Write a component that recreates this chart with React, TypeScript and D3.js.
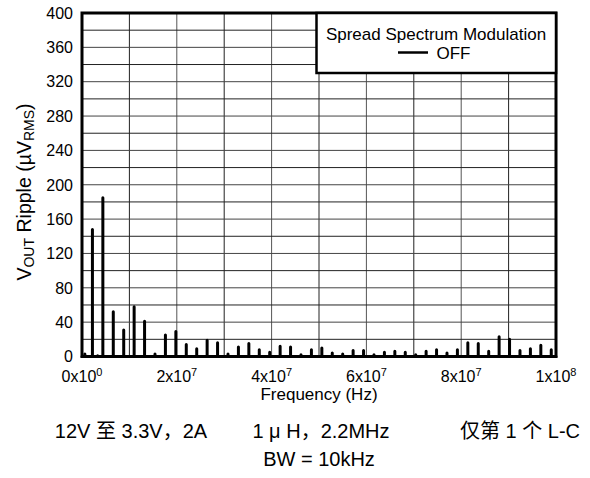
import React from 'react';
import * as d3 from 'd3';

// Spike frequencies (MHz) and ripple amplitude (µV RMS)
const spikeFreqMHz = [
  0.6, 2.2, 3.3, 4.4, 6.6, 8.8, 11, 13.2, 15.4, 17.6, 19.8, 22, 24.2, 26.4, 28.6, 30.8, 33,
  35.2, 37.4, 39.6, 41.8, 44, 46.2, 48.4, 50.6, 52.8, 55, 57.2, 59.4, 61.6, 63.8, 66, 68.2,
  70.4, 72.6, 74.8, 77, 79.2, 81.4, 83.6, 85.8, 88, 90.2, 92.4, 94.6, 96.8, 99,
];
const spikeRipple = [
  3, 148, 1, 185, 52, 31, 58, 41, 3, 25, 29, 14, 9, 19, 16, 3, 11,
  15, 8, 5, 12, 11, 2, 8, 10, 4, 3, 7, 7, 2, 5, 6, 5,
  2, 6, 8, 4, 8, 16, 15, 6, 23, 20, 7, 9, 13, 8,
];

const xTickValues = [0, 2e7, 4e7, 6e7, 8e7, 1e8];
const xTickMantissa = ['0', '2', '4', '6', '8', '1'];
const xTickExponent = ['0', '7', '7', '7', '7', '8'];
const yTickValues = [0, 40, 80, 120, 160, 200, 240, 280, 320, 360, 400];
const xGridValues = d3.range(0, 1e8 + 1, 1e7);
const yGridValues = d3.range(0, 401, 20);

const legendTitle = 'Spread Spectrum Modulation';
const legendSeries = 'OFF';
const xTitle = 'Frequency (Hz)';
const noteLine1 = ['12V 至 3.3V，2A', '1 μ H，2.2MHz', '仅第 1 个 L-C'];
const noteLine2 = 'BW = 10kHz';

const W = 590;
const H = 478;
const L = 82;
const R = 556;
const T = 13;
const B = 356.5;

const FONT = "'Liberation Sans', Arial, 'Noto Sans CJK SC', sans-serif";

export default function App() {
  const x = d3.scaleLinear().domain([0, 1e8]).range([L, R]);
  const y = d3.scaleLinear().domain([0, 400]).range([B, T]);

  const pts: [number, number][] = [[0, 0]];
  spikeFreqMHz.forEach((f, i) => {
    const hz = f * 1e6;
    pts.push([hz, 0], [hz, spikeRipple[i]], [hz, 0]);
  });
  pts.push([1e8, 0]);
  const line = d3
    .line<[number, number]>()
    .x((d) => x(d[0]))
    .y((d) => y(d[1]));

  return (
    <svg
      width={W}
      height={H}
      style={{ position: 'absolute', left: 0, top: 0, background: '#fff' }}
      fontFamily={FONT}
    >
      <rect x={0} y={0} width={W} height={H} fill="#fff" />
      {/* grid */}
      {xGridValues.map((v, i) => (
        <line key={'gx' + i} x1={x(v)} x2={x(v)} y1={T} y2={B} stroke={i % 2 ? '#222' : '#555'} strokeWidth={1} />
      ))}
      {yGridValues.map((v, i) => (
        <line key={'gy' + i} x1={L} x2={R} y1={y(v)} y2={y(v)} stroke={i % 2 ? '#222' : '#444'} strokeWidth={1} />
      ))}
      {/* data */}
      <path d={line(pts) || ''} fill="none" stroke="#000" strokeWidth={3} strokeLinejoin="round" strokeLinecap="round" />
      {/* frame */}
      <rect x={L} y={T} width={R - L} height={B - T} fill="none" stroke="#000" strokeWidth={3} />
      {/* legend */}
      <rect x={316.5} y={T} width={R - 316.5} height={60} fill="#fff" stroke="#000" strokeWidth={2.5} />
      <text x={436} y={40} fontSize={17} textAnchor="middle" fill="#000">
        {legendTitle}
      </text>
      <line x1={398} x2={428} y1={52.5} y2={52.5} stroke="#000" strokeWidth={2.5} />
      <text x={436.5} y={59} fontSize={17} fill="#000">
        {legendSeries}
      </text>
      {/* y ticks */}
      {yTickValues.map((v) => (
        <text key={'yt' + v} x={73} y={y(v)} dy="0.36em" fontSize={16} textAnchor="end" fill="#000">
          {v}
        </text>
      ))}
      {/* x ticks */}
      {xTickValues.map((v, i) => (
        <text key={'xt' + i} x={x(v)} y={382} fontSize={16} textAnchor="middle" fill="#000">
          <tspan>{xTickMantissa[i] + 'x10'}</tspan>
          <tspan dy={-6} fontSize={11}>
            {xTickExponent[i]}
          </tspan>
        </text>
      ))}
      {/* axis titles */}
      <text x={(L + R) / 2} y={400} fontSize={17} textAnchor="middle" fill="#000">
        {xTitle}
      </text>
      <text transform="translate(31,192) rotate(-90)" fontSize={19.5} textAnchor="middle" fill="#000">
        <tspan>V</tspan>
        <tspan fontSize={14} dy={3}>OUT</tspan>
        <tspan dy={-3}> Ripple (µV</tspan>
        <tspan fontSize={14} dy={3}>RMS</tspan>
        <tspan dy={-3}>)</tspan>
      </text>
      {/* notes */}
      <text x={131} y={438} fontSize={20} textAnchor="middle" fill="#000">{noteLine1[0]}</text>
      <text x={321} y={438} fontSize={20} textAnchor="middle" fill="#000">{noteLine1[1]}</text>
      <text x={520} y={438} fontSize={20} textAnchor="middle" fill="#000">{noteLine1[2]}</text>
      <text x={319} y={466} fontSize={20} textAnchor="middle" fill="#000">{noteLine2}</text>
    </svg>
  );
}
